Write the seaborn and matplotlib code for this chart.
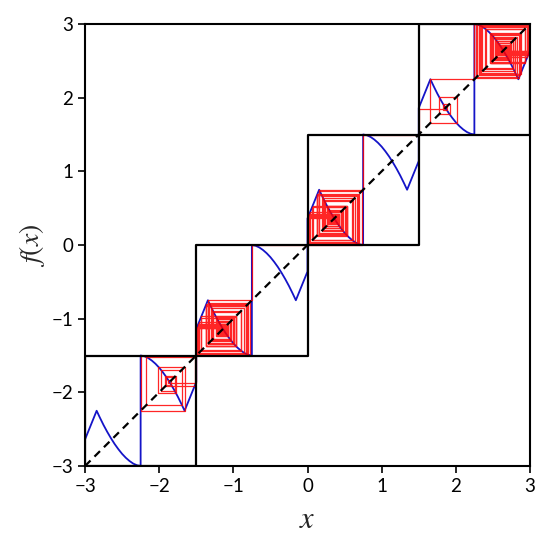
import numpy as np
import pandas as pd
import matplotlib
matplotlib.use("Agg")
import matplotlib.pyplot as plt
import seaborn as sns

# ---------------- data ----------------
# lower-left corners of the four invariant squares, and their side
box_corners = [-3.0, -1.5, 0.0, 1.5]
box_side = 1.5

# left-half branch of f inside one square, relative to the square's corner
branch_u = [0.0, 0.157, 0.20, 0.25, 0.30, 0.35, 0.40, 0.45, 0.50, 0.55, 0.60, 0.65, 0.70, 0.75]
branch_v = [0.36, 0.75, 0.658, 0.556, 0.463, 0.377, 0.298, 0.228, 0.165, 0.112, 0.068, 0.033, 0.010, 0.0]

# cobweb orbit, as iterates measured from the outer edge of each half-square
orbit_box1_right = [0.0, 0.377, 0.334, 0.404, 0.292, 0.477, 0.194, 0.671, 0.023, 0.418,
                    0.273, 0.51, 0.157, 0.75, 0.0]
orbit_box2_left = [0.0, 0.37, 0.3454, 0.3849, 0.3219, 0.4253, 0.2626, 0.5326, 0.1304, 0.684,
                   0.0174, 0.4032, 0.2935, 0.4751, 0.1964, 0.6657, 0.0258, 0.4241, 0.2643,
                   0.5294, 0.1338, 0.6924, 0.0135, 0.3935, 0.3083, 0.4487, 0.2298, 0.5972,
                   0.0705, 0.5351, 0.1278, 0.6775, 0.0204, 0.4107, 0.283, 0.4946, 0.1718,
                   0.7183, 0.0063, 0.3756, 0.3366, 0.400, 0.298, 0.4667, 0.207, 0.6437,
                   0.0374, 0.4529, 0.2243, 0.6084, 0.0621, 0.5105, 0.157, 0.75, 1.5]
orbit_box3_left = [0.0, 0.3756, 0.3366, 0.400, 0.298, 0.4667, 0.207, 0.6437, 0.0374, 0.4529,
                   0.2243, 0.6084, 0.0621, 0.5143, 0.1498, 0.7321, 0.0036, 0.369, 0.3454,
                   0.3849, 0.3219, 0.4253, 0.2626, 0.5326, 0.1304, 0.684, 0.0174, 0.4032,
                   0.2935, 0.4751, 0.1964, 0.6657, 0.0258, 0.4241, 0.2643, 0.5294, 0.1338,
                   0.6924, 0.0135, 0.3935, 0.3083, 0.4487, 0.2298, 0.5972, 0.0705, 0.5351,
                   0.1278, 0.6775, 0.0204, 0.4107, 0.283, 0.5105, 0.157, 0.75, 1.5]
orbit_box4_left = [0.0, 0.347, 0.382, 0.327, 0.416, 0.275, 0.509, 0.155, 0.75, 1.5]
orbit_box4_right = [0.0, 0.37, 0.3454, 0.3849, 0.3219, 0.4253, 0.2626, 0.5326, 0.1304, 0.684,
                    0.0174, 0.4032, 0.2935, 0.4751, 0.1964, 0.6657, 0.0258, 0.4241, 0.2643,
                    0.5294, 0.1338, 0.6924, 0.0135, 0.3935, 0.3083, 0.4487, 0.2298, 0.5972,
                    0.0705, 0.5351, 0.1278, 0.6775, 0.0204, 0.4107, 0.283, 0.4946, 0.1718,
                    0.7183, 0.0063, 0.3756, 0.3366, 0.400, 0.298, 0.4667, 0.207, 0.6437,
                    0.0374, 0.4529, 0.2243, 0.6084, 0.0621, 0.5143, 0.1498, 0.7321, 0.0036,
                    0.369]

tick_values = [-3, -2, -1, 0, 1, 2, 3]

# ---------------- build tables ----------------
curve_x, curve_y = [], []
for c in box_corners:
    curve_x += [c + u for u in branch_u]
    curve_y += [c + v for v in branch_v]
    curve_x += [c + box_side - u for u in reversed(branch_u)]
    curve_y += [c + box_side - v for v in reversed(branch_v)]
curve = pd.DataFrame({"x": curve_x, "y": curve_y})

# orbit in absolute coordinates (left halves: corner + u ; right halves: corner + side - u)
segments = [
    (orbit_box1_right, -3.0, -1),
    (orbit_box2_left, -1.5, +1),
    (orbit_box3_left, 0.0, +1),
    (orbit_box4_left, 1.5, +1),
    (orbit_box4_right, 1.5, -1),
]
orbit = []
for vals, c, sgn in segments:
    pts = [c + u if sgn > 0 else c + box_side - u for u in vals]
    if orbit and abs(orbit[-1] - pts[0]) < 1e-9:
        pts = pts[1:]
    orbit += pts

web_x, web_y = [orbit[0]], [orbit[0]]
for a, b in zip(orbit[:-1], orbit[1:]):
    web_x += [a, b]
    web_y += [b, b]
web = pd.DataFrame({"x": web_x, "y": web_y})

# ---------------- plot ----------------
sns.set_style("ticks")
plt.rcParams["font.family"] = ["Lato", "DejaVu Sans"]
plt.rcParams["mathtext.fontset"] = "stix"

fig = plt.figure(figsize=(5.5, 5.36), dpi=100)
ax = fig.add_axes([85 / 550, 70 / 536, 445 / 550, 442 / 536])

sns.lineplot(data=curve, x="x", y="y", sort=False, estimator=None, color="#1414c8",
             lw=1.3, ax=ax, zorder=2)
sns.lineplot(data=web, x="x", y="y", sort=False, estimator=None, color="red",
             lw=0.9, alpha=0.85, ax=ax, zorder=3)

for c in box_corners:
    sq = pd.DataFrame({"x": [c, c + box_side, c + box_side, c, c],
                       "y": [c, c, c + box_side, c + box_side, c]})
    sns.lineplot(data=sq, x="x", y="y", sort=False, estimator=None, color="black",
                 lw=1.6, ax=ax, zorder=4)

diag = pd.DataFrame({"x": [-3, 3], "y": [-3, 3]})
sns.lineplot(data=diag, x="x", y="y", color="black", lw=1.6, ax=ax, zorder=5,
             linestyle=(0, (3.5, 2.5)))

ax.set_xlim(-3, 3)
ax.set_ylim(-3, 3)
ax.set_xticks(tick_values)
ax.set_yticks(tick_values)
ax.tick_params(direction="out", length=5, width=1.2, labelsize=13.5, colors="black")
for s in ax.spines.values():
    s.set_linewidth(1.5)
    s.set_color("black")
ax.set_xlabel(r"$x$", fontsize=22, labelpad=7)
ax.set_ylabel(r"$f(x)$", fontsize=20, labelpad=3)

fig.savefig("out.png", dpi=100)
